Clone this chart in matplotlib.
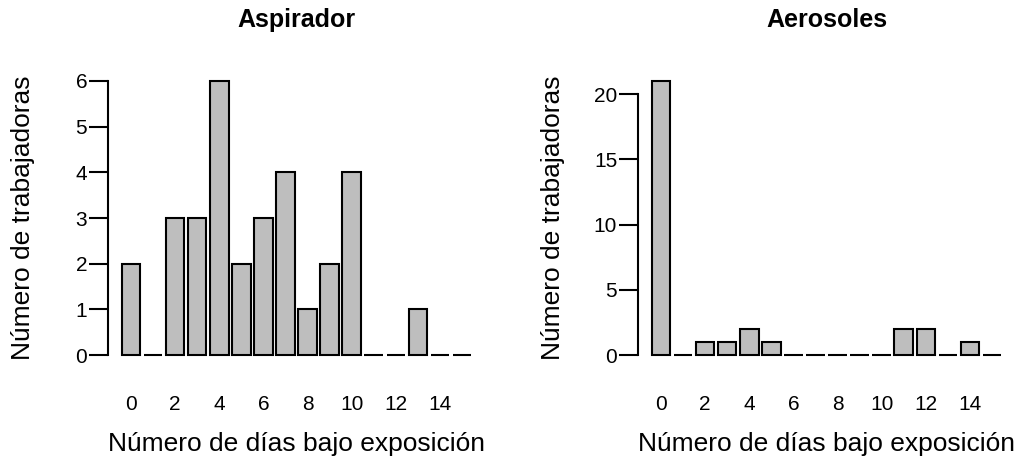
import numpy as np
import matplotlib
matplotlib.use("Agg")
import matplotlib.pyplot as plt

plt.rcParams["font.family"] = ["Liberation Sans", "DejaVu Sans"]

# Número de trabajadoras según días bajo exposición (0..15)
dias = list(range(16))
aspirador = [2, 0, 3, 3, 6, 2, 3, 4, 1, 2, 4, 0, 0, 1, 0, 0]
aerosoles = [21, 0, 1, 1, 2, 1, 0, 0, 0, 0, 0, 2, 2, 0, 1, 0]
etiquetas_x = [0, 2, 4, 6, 8, 10, 12, 14]
ticks_asp = [0, 1, 2, 3, 4, 5, 6]
ticks_aer = [0, 5, 10, 15, 20]

W, H = 1021, 466
fig = plt.figure(figsize=(W / 100, H / 100), dpi=100)


def panel(left_px, valores, yticks, titulo):
    ax = fig.add_axes([left_px / W, 100 / H, 377 / W, 296 / H])
    # barras al estilo barplot: ancho 1, espacio 0.2
    centros = 0.7 + 1.2 * np.array(dias)
    ax.bar(centros, valores, width=1.0, color="#BEBEBE",
           edgecolor="black", linewidth=1.5)
    ymax = max(valores)
    n = len(dias)
    xr = (0.2, 0.2 + 1.2 * (n - 1) + 1.0)
    dx = 0.04 * (xr[1] - xr[0])
    ax.set_xlim(xr[0] - dx, xr[1] + dx)
    ax.set_ylim(-0.04 * ymax, ymax * 1.04)
    for s in ["top", "right", "bottom"]:
        ax.spines[s].set_visible(False)
    ax.spines["left"].set_bounds(yticks[0], yticks[-1])
    ax.spines["left"].set_linewidth(1.5)
    ax.set_yticks(yticks)
    ax.set_yticklabels([str(t) for t in yticks], fontsize=15)
    ax.tick_params(axis="y", length=14, width=1.5, pad=1)
    ax.set_xticks(centros[etiquetas_x])
    ax.set_xticklabels([str(e) for e in etiquetas_x], fontsize=15)
    ax.tick_params(axis="x", length=0, pad=21)
    ax.set_xlabel("Número de días bajo exposición", fontsize=19, va="center")
    ax.xaxis.set_label_coords(0.5, -0.265)
    ax.set_ylabel("Número de trabajadoras", fontsize=19, va="center")
    ax.yaxis.set_label_coords(-0.226, 0.5)
    ax.text(0.5, 1.169, titulo, transform=ax.transAxes, fontsize=18,
            fontweight="bold", ha="center", va="center")
    return ax


panel(108, aspirador, ticks_asp, "Aspirador")
panel(638, aerosoles, ticks_aer, "Aerosoles")

fig.savefig("out.png", dpi=100)
